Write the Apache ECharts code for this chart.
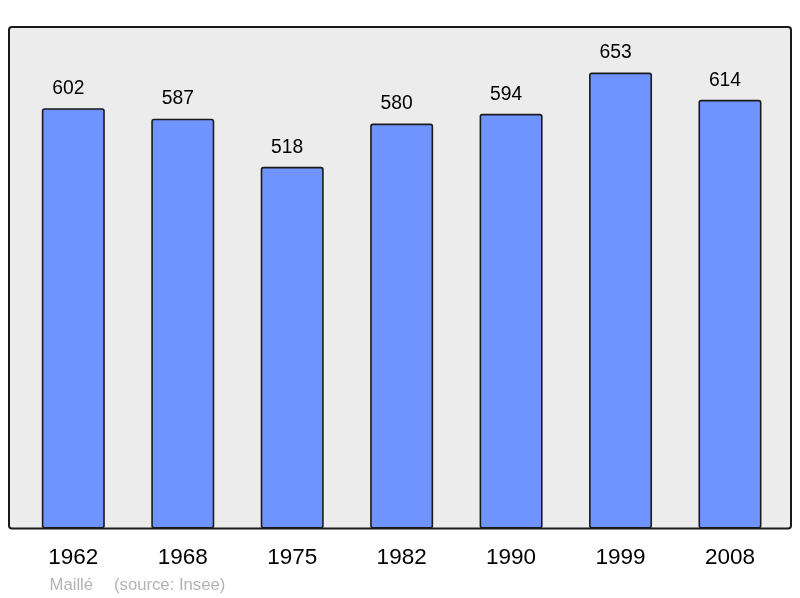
<!DOCTYPE html>
<html>
<head>
<meta charset="utf-8">
<script src="https://cdn.jsdelivr.net/npm/echarts@6/dist/echarts.min.js"></script>
<style>
html,body{margin:0;padding:0;background:#fff;}
#chart{width:800px;height:598px;}
</style>
</head>
<body>
<div id="chart"></div>
<script>
const categories = ['1962', '1968', '1975', '1982', '1990', '1999', '2008'];
const population = [602, 587, 518, 580, 594, 653, 614];
const footerPlace = 'Maillé';
const footerSource = '(source: Insee)';

const FONT = '"Liberation Sans", Arial, sans-serif';
const chart = echarts.init(document.getElementById('chart'), null, {renderer: 'canvas'});
const yMax = Math.max(...population) * 1.1;

chart.setOption({
  animation: false,
  backgroundColor: '#ffffff',
  grid: {left: 18.6, right: 15.3, top: 27, bottom: 598 - 528.5, containLabel: false},
  graphic: [
    {type: 'rect', z: 0, shape: {x: 9, y: 27, width: 782, height: 501.5, r: 3},
     style: {fill: '#ececec', stroke: '#1a1a1a', lineWidth: 2}},
    {type: 'text', z: 5, left: 49.5, top: 577, style: {text: footerPlace, font: '16.7px ' + FONT, fill: '#b3b3b3'}},
    {type: 'text', z: 5, left: 114, top: 577, style: {text: footerSource, font: '16.7px ' + FONT, fill: '#b3b3b3'}}
  ],
  xAxis: {
    type: 'category',
    data: categories,
    axisLine: {show: false},
    axisTick: {show: false},
    axisLabel: {fontSize: 22.5, color: '#000', fontFamily: FONT, margin: 17.5}
  },
  yAxis: {
    type: 'value',
    min: 0,
    max: yMax,
    show: false,
    splitLine: {show: false}
  },
  series: [{
    type: 'bar',
    data: population,
    barWidth: 63,
    z: 2,
    itemStyle: {color: '#7094ff', borderColor: '#1a1a1a', borderWidth: 1.6, borderRadius: 2},
    label: {
      show: true,
      position: 'top',
      distance: 10,
      offset: [-5, 0],
      fontSize: 19.3,
      color: '#000',
      fontFamily: FONT
    }
  }]
});
</script>
</body>
</html>
